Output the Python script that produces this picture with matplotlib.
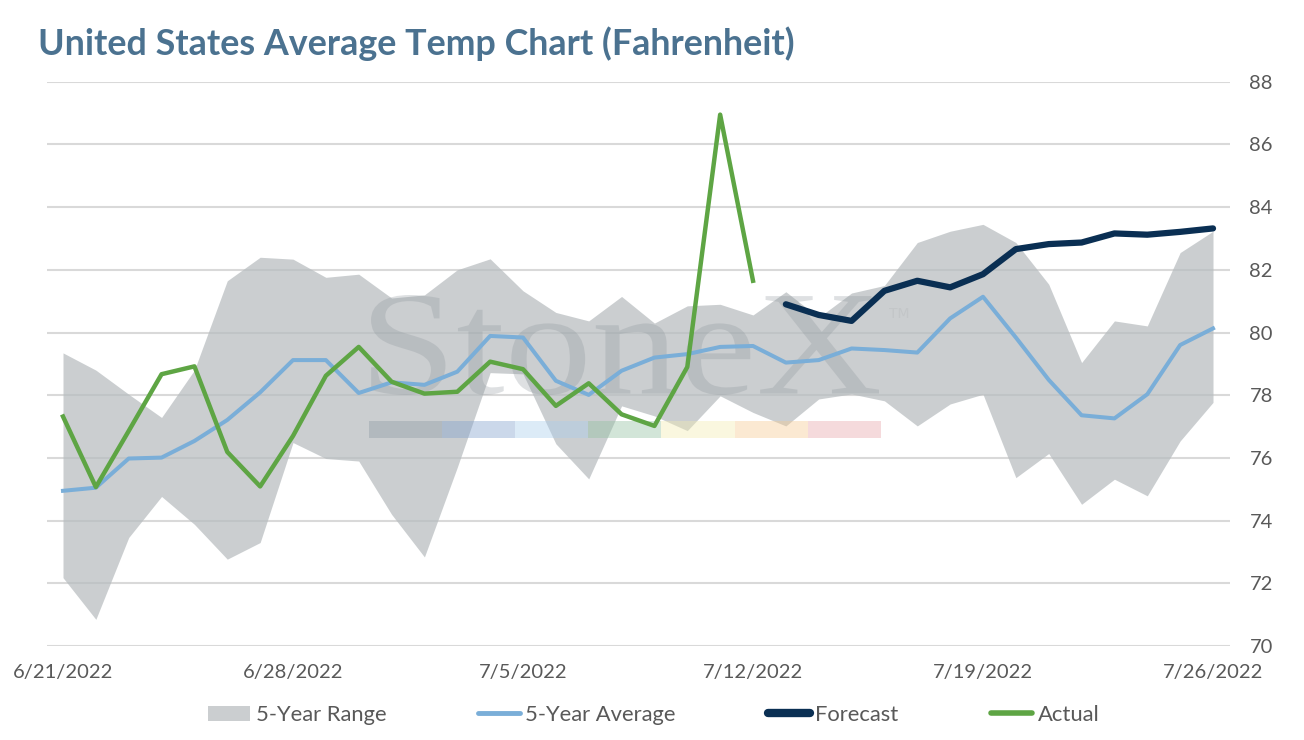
import numpy as np
import pandas as pd
import matplotlib
matplotlib.use("Agg")
import matplotlib.pyplot as plt
import matplotlib.dates as mdates
from matplotlib.textpath import TextPath
from matplotlib.patches import PathPatch, Rectangle
from matplotlib.font_manager import FontProperties
from matplotlib.transforms import Affine2D, IdentityTransform
from matplotlib.lines import Line2D
from matplotlib.patches import Patch

# ---------------- data ----------------
dates = pd.date_range("2022-06-21", "2022-07-26", freq="D")

range_high = [79.35, 78.80, 78.03, 77.29, 78.80, 81.65, 82.40, 82.34, 81.76, 81.86,
              81.10, 81.20, 82.00, 82.35, 81.33, 80.64, 80.37, 81.15, 80.30, 80.85,
              80.90, 80.56, 81.30, 80.48, 81.26, 81.50, 82.87, 83.23, 83.45, 82.87,
              81.54, 79.04, 80.37, 80.21, 82.55, 83.23]
range_low = [72.18, 70.85, 73.46, 74.77, 73.88, 72.77, 73.30, 76.49, 75.98, 75.90,
             74.20, 72.84, 75.70, 78.72, 78.68, 76.45, 75.33, 77.66, 77.34, 76.87,
             77.98, 77.45, 77.02, 77.88, 78.04, 77.82, 77.02, 77.72, 78.03, 75.37,
             76.14, 74.52, 75.32, 74.79, 76.54, 77.77]
avg_5yr = [74.95, 75.05, 75.98, 76.01, 76.54, 77.21, 78.09, 79.12, 79.12, 78.07,
           78.41, 78.33, 78.75, 79.89, 79.84, 78.46, 78.01, 78.78, 79.20, 79.31,
           79.54, 79.57, 79.04, 79.12, 79.49, 79.44, 79.36, 80.45, 81.14, 79.84,
           78.49, 77.36, 77.26, 78.03, 79.60, 80.13]
actual = [77.32, 75.07, 76.86, 78.67, 78.92, 76.19, 75.09, 76.70, 78.62, 79.54,
          78.43, 78.05, 78.11, 79.07, 78.83, 77.66, 78.38, 77.39, 77.02, 78.90,
          86.95, 81.65]
forecast = [80.90, 80.56, 80.37, 81.33, 81.65, 81.44, 81.86, 82.66, 82.82, 82.87,
            83.16, 83.12, 83.21, 83.32]

xtick_labels = ["6/21/2022", "6/28/2022", "7/5/2022", "7/12/2022", "7/19/2022", "7/26/2022"]
yticks = [70, 72, 74, 76, 78, 80, 82, 84, 86, 88]
title = "United States Average Temp Chart (Fahrenheit)"
legend_labels = ["5-Year Range", "5-Year Average", "Forecast", "Actual"]

# ---------------- style ----------------
FONT = "Lato"
plt.rcParams["font.family"] = [FONT, "DejaVu Sans"]
TICK_COLOR = "#595959"
GRID_COLOR = "#d9d9d9"
FILL_COLOR = "#b7bcbf"
AVG_COLOR = "#7aaed8"
FC_COLOR = "#0a2f53"
ACT_COLOR = "#5ea544"
TITLE_COLOR = "#4b7290"

W, H = 1304, 740
fig = plt.figure(figsize=(W / 100, H / 100), dpi=100)
ax = fig.add_axes([47 / W, 1 - 646 / H, (1230 - 47) / W, (646 - 81.7) / H])

x = mdates.date2num(dates.to_pydatetime())
act_x = x[: len(actual)]
fc_x = x[len(actual):]

ax.fill_between(x, range_low, range_high, color=FILL_COLOR, alpha=0.72, lw=0, zorder=1)
ax.plot(x, avg_5yr, color=AVG_COLOR, lw=2.9, zorder=3, solid_joinstyle="round")
ax.plot(fc_x, forecast, color=FC_COLOR, lw=4.5, zorder=4, solid_joinstyle="round",
        solid_capstyle="round")
ax.plot(act_x, actual, color=ACT_COLOR, lw=3.2, zorder=4, solid_joinstyle="round")

ax.set_ylim(70, 88)
ax.set_xlim(x[0] - 0.487, x[-1] + 0.517)
ax.set_yticks(yticks)
ax.yaxis.tick_right()
ax.yaxis.grid(True, color=GRID_COLOR, lw=1.5, zorder=0)
ax.set_axisbelow(True)
ax.set_xticks(x[::7])
ax.set_xticklabels(xtick_labels)
ax.tick_params(axis="both", length=0, labelsize=14.5, labelcolor=TICK_COLOR)
ax.tick_params(axis="y", pad=14)
ax.tick_params(axis="x", pad=13)
for s in ax.spines.values():
    s.set_visible(False)

# ---------------- watermark ----------------
fp = FontProperties(family="Liberation Serif")
tp = TextPath((0, 0), "StoneX", size=100, prop=fp)
bb = tp.get_extents()
x0, x1, ytop, ybot = 371, 879, 295, 395
sx = (x1 - x0) / bb.width
sy = (ybot - ytop) / bb.height
tr = Affine2D().translate(-bb.x0, -bb.y0).scale(sx, sy).translate(x0, H - ybot)
wm = PathPatch(tr.transform_path(tp), facecolor="#8a9399", edgecolor="none",
               alpha=0.28, transform=IdentityTransform(), zorder=2)
ax.add_artist(wm)
fig.text(889 / W, 1 - 318 / H, "TM", fontsize=10, color="#c3c6c8", family="DejaVu Sans",
         ha="left", va="baseline")
bar_colors = ["#8e9aa3", "#7f9fcb", "#a9cdec", "#8fbf9f", "#f3ecb0", "#f5c98f", "#e8a3a8"]
seg_w = 73.2
for i, c in enumerate(bar_colors):
    r = Rectangle((368.6 + i * seg_w, H - 438), seg_w, 17, facecolor=c, edgecolor="none",
                  alpha=0.4, transform=IdentityTransform(), zorder=2)
    ax.add_artist(r)

# ---------------- title & legend ----------------
fig.text(38 / W, 1 - 44 / H, title, fontsize=25.8, fontweight="bold", color=TITLE_COLOR,
         ha="left", va="center")

handles = [
    Patch(facecolor=FILL_COLOR, alpha=0.72, edgecolor="none"),
    Line2D([], [], color=AVG_COLOR, lw=3.5, solid_capstyle="round"),
    Line2D([], [], color=FC_COLOR, lw=6, solid_capstyle="round"),
    Line2D([], [], color=ACT_COLOR, lw=4, solid_capstyle="round"),
]
leg = fig.legend(handles, legend_labels, loc="center", bbox_to_anchor=(654 / W, 1 - 715 / H),
                 ncol=4, frameon=False, fontsize=15.8, handlelength=1.9, handletextpad=0.25,
                 columnspacing=4.2, handleheight=0.7)
for t in leg.get_texts():
    t.set_color(TICK_COLOR)

fig.savefig("out.png", dpi=100)
